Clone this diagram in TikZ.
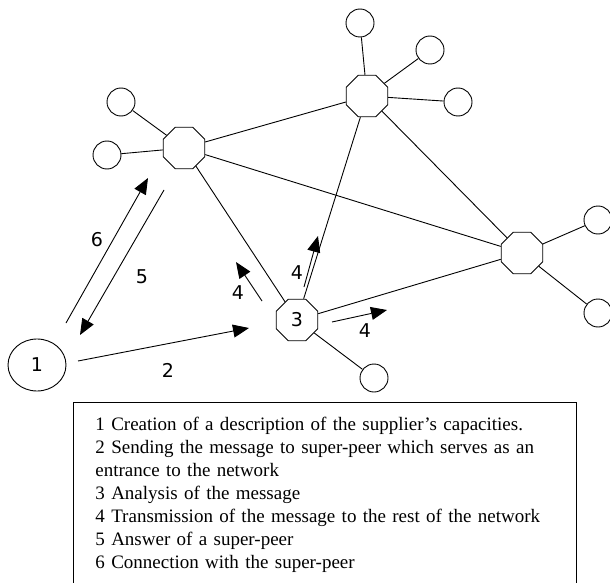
\documentclass[tikz,border=0pt]{standalone}
\usepackage{fontspec}
\setmainfont{Liberation Serif}
\newfontfamily\digitfont{DejaVu Sans}
\usetikzlibrary{shapes.geometric,arrows.meta}

\begin{document}
\begin{tikzpicture}[x=1pt,y=-1pt,line width=0.9pt,
	superpeer/.style={draw,regular polygon,regular polygon sides=8,minimum size=45pt,inner sep=0pt,font=\digitfont\fontsize{19}{19}\selectfont},
	peer/.style={draw,circle,minimum size=28pt,inner sep=0pt},
	msg/.style={-{Triangle[length=16pt,width=13pt]}},
	num/.style={font=\digitfont\fontsize{19}{19}\selectfont,inner sep=0pt}]
					\useasboundingbox (0,0) rectangle (610,583);
					% super-peers and their peers
					\node[superpeer] (spleft) at (184,148) {};
					\node[superpeer] (sptop) at (367,96) {};
					\node[superpeer] (spright) at (522,253) {};
					\node[superpeer] (spentry) at (297,320) {3};
					\node[draw,ellipse,minimum width=58pt,minimum height=52pt,inner sep=0pt,font=\digitfont\fontsize{19}{19}\selectfont] (supplier) at (37,365) {1};
					\node[peer] (pleftA) at (121,102) {};
					\node[peer] (pleftB) at (107,155) {};
					\node[peer] (ptopA) at (360,23) {};
					\node[peer] (ptopB) at (430,50) {};
					\node[peer] (ptopC) at (458,102) {};
					\node[peer] (prightA) at (598,220) {};
					\node[peer] (prightB) at (598,313) {};
					\node[peer] (pentry) at (374,378) {};
					\draw (spleft) -- (pleftA);
					\draw (spleft) -- (pleftB);
					\draw (sptop) -- (ptopA);
					\draw (sptop) -- (ptopB);
					\draw (sptop) -- (ptopC);
					\draw (spright) -- (prightA);
					\draw (spright) -- (prightB);
					\draw (spentry) -- (pentry);
					\draw (spleft) -- (sptop);
					\draw (spleft) -- (spright);
					\draw (spleft) -- (spentry);
					\draw (sptop) -- (spentry);
					\draw (sptop) -- (spright);
					\draw (spentry) -- (spright);
					
					% messages
					\coordinate (sixA) at (66,323);
					\coordinate (sixB) at (148,178);
					\coordinate (fiveA) at (164,190);
					\coordinate (fiveB) at (80,335);
					\coordinate (twoA) at (78,361);
					\coordinate (twoB) at (249,328);
					\coordinate (fourlA) at (262,301);
					\coordinate (fourlB) at (236,262);
					\coordinate (fouruA) at (304,287);
					\coordinate (fouruB) at (318,236);
					\coordinate (fourrA) at (332,322);
					\coordinate (fourrB) at (387,310);
					\draw[msg] (sixA) -- (sixB);
					\draw[msg] (fiveA) -- (fiveB);
					\draw[msg] (twoA) -- (twoB);
					\draw[msg] (fourlA) -- (fourlB);
					\draw[msg] (fouruA) -- (fouruB);
					\draw[msg] (fourrA) -- (fourrB);
					\node[num] (labsix) at (97,240) {6};
					\node[num] (labfive) at (142,277) {5};
					\node[num] (labtwo) at (168,370) {2};
					\node[num] (labfourl) at (238,293) {4};
					\node[num] (labfouru) at (297,273) {4};
					\node[num] (labfourr) at (365,331) {4};
					
					% legend
					\node[draw,anchor=north west,minimum width=503pt,minimum height=200pt] (legendbox) at (73,402) {};
					\node[anchor=north west,inner sep=0pt,align=left,text width=480pt,font=\fontsize{19}{23}\selectfont] (legend) at (95,417) {1 Creation of a description of the supplier’s capacities.\\2 Sending the message to super-peer which serves as an\\entrance to the network\\3 Analysis of the message\\4 Transmission of the message to the rest of the network\\5 Answer of a super-peer\\6 Connection with the super-peer};
				\end{tikzpicture}
\end{document}
